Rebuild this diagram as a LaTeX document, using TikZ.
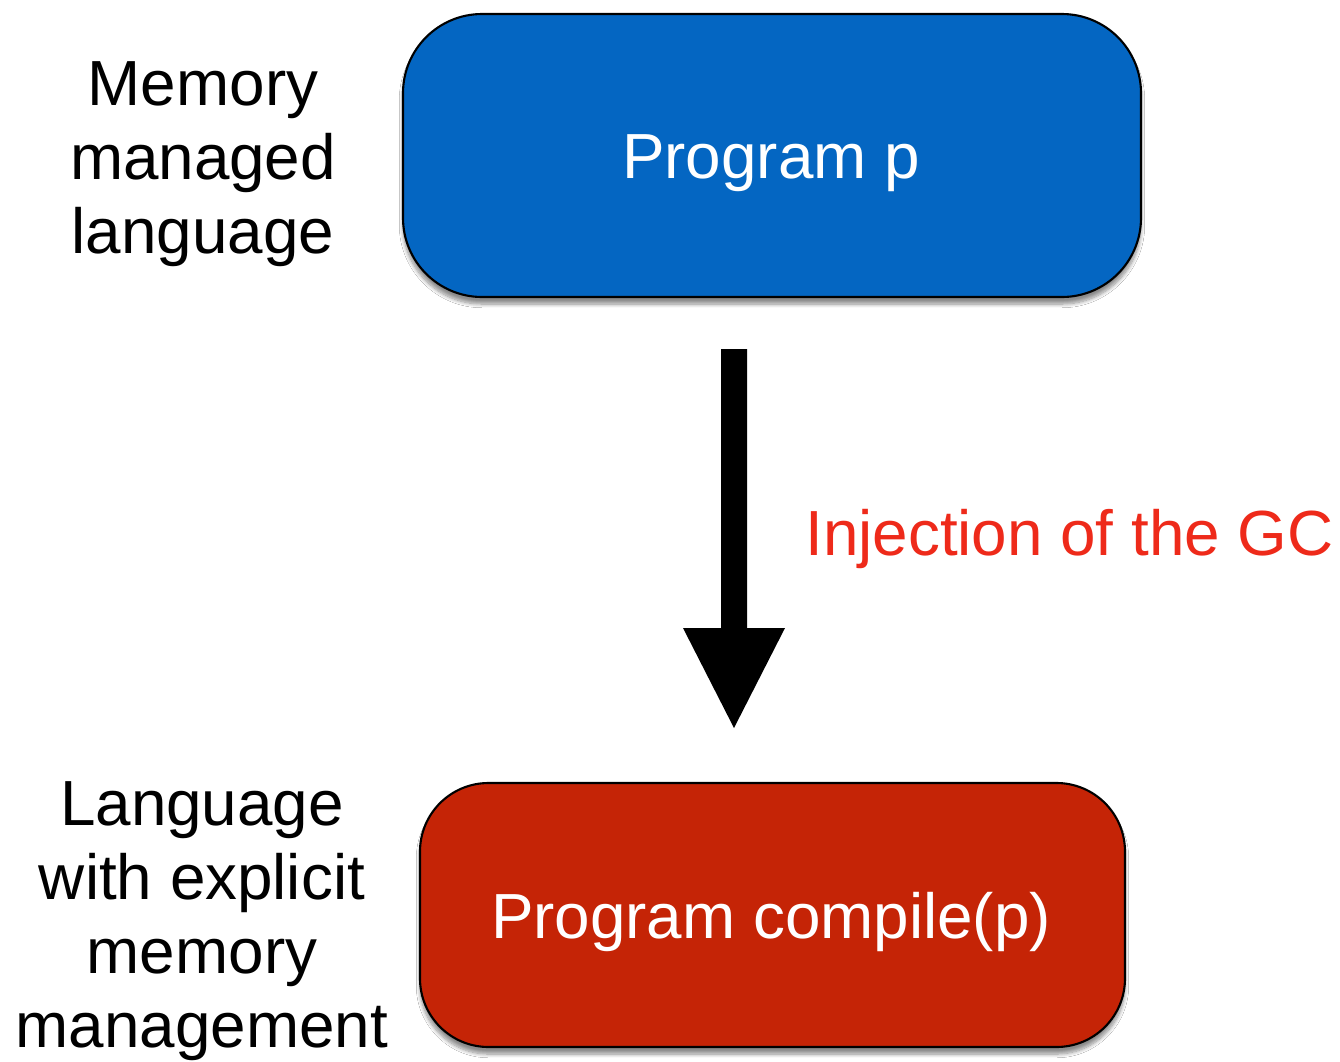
\documentclass[tikz,border=0pt]{standalone}
\usepackage{fontspec}
\setmainfont{Liberation Sans}
\usetikzlibrary{shadows.blur}
\definecolor{boxblue}{HTML}{0466C2}
\definecolor{boxred}{HTML}{C52406}
\definecolor{labred}{HTML}{EE2A1A}
\begin{document}
\begin{tikzpicture}[x=0.02cm,y=-0.02cm,
  bigfont/.style={font=\fontsize{36.3pt}{42pt}\selectfont},
  progbox/.style={draw=black,line width=1.2pt,rounded corners=#1,
     blur shadow={shadow xshift=0pt,shadow yshift=-4pt,shadow blur steps=8,shadow opacity=45}},
  boxtext/.style={bigfont,text=white,inner sep=0pt,anchor=base},
  sidetext/.style={bigfont,align=center,inner sep=0pt,anchor=base}]
\useasboundingbox[fill=white] (0,0) rectangle (1340,1062);
% boxes
\draw[progbox=45pt,fill=boxblue] (403,14) rectangle (1141,297);
\node[boxtext] (p) at (771,178) {Program p};
\draw[progbox=39pt,fill=boxred] (420,783) rectangle (1125,1047);
\node[boxtext] (cp) at (771,938) {Program compile(p)};
% arrow
\coordinate (as) at (734,349);
\coordinate (at) at (734,728);
\fill[black] (721,349) -- (747,349) -- (747,628) -- (785,628) -- (at) -- (683,628) -- (721,628) -- cycle;
% label
\node[bigfont,text=labred,inner sep=0pt,anchor=base west] (inj) at (805,555) {Injection of the GC};
% side texts
\node[sidetext] (mm) at (203,253) {Memory\\managed\\language};
\node[sidetext] (ex) at (202,1047) {Language\\with explicit\\memory\\management};
\end{tikzpicture}
\end{document}
